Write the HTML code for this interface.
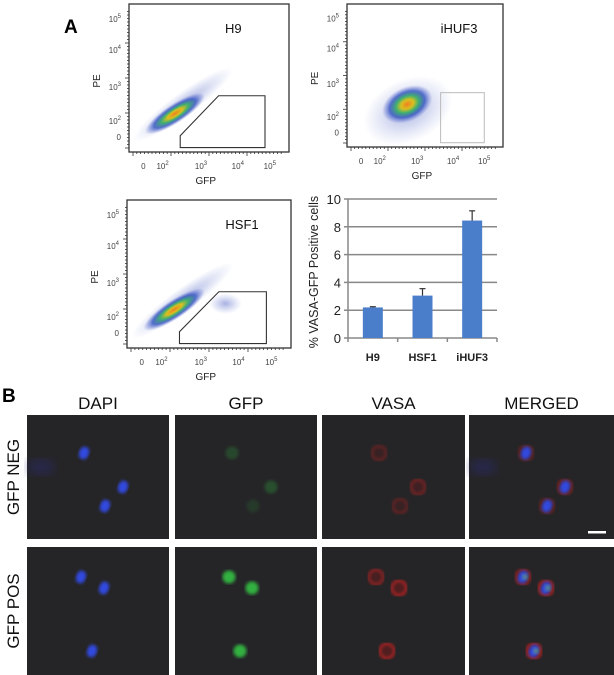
<!DOCTYPE html>
<html><head><meta charset="utf-8"><style>
html,body{margin:0;padding:0;background:#fff;}
svg{display:block;font-family:"Liberation Sans",sans-serif;}
</style></head><body>
<svg id="fig" width="614" height="675" viewBox="0 0 614 675" xmlns="http://www.w3.org/2000/svg">
<defs>
<radialGradient id="dens" cx="50%" cy="50%" r="50%">
<stop offset="0" stop-color="#f08020"/>
<stop offset="0.25" stop-color="#d8c020"/>
<stop offset="0.45" stop-color="#40b070"/>
<stop offset="0.7" stop-color="#3050c0" stop-opacity="0.8"/>
<stop offset="1" stop-color="#6070d0" stop-opacity="0"/>
</radialGradient>
<radialGradient id="sparse" cx="50%" cy="50%" r="50%">
<stop offset="0" stop-color="#6070c8" stop-opacity="0.55"/>
<stop offset="1" stop-color="#8090d8" stop-opacity="0"/>
</radialGradient>
<filter id="blur1"><feGaussianBlur stdDeviation="1.6"/></filter>
<filter id="blur2"><feGaussianBlur stdDeviation="5"/></filter>
</defs>
<text x="64" y="33" font-size="19" font-weight="bold">A</text>
<text x="2" y="402" font-size="19" font-weight="bold">B</text>
<g id="flows"></g>
<g id="bars"></g>
<g id="micro"></g>
</svg>
<script>
const NS='http://www.w3.org/2000/svg';
function mk(p,tag,attrs,txt){const e=document.createElementNS(NS,tag);for(const k in attrs)e.setAttribute(k,attrs[k]);if(txt!==undefined)e.textContent=txt;p.appendChild(e);return e;}

/* ---------- Flow plots ---------- */
const flowNames=['H9','iHUF3','HSF1'];
const flowBoxes=[[129,4,289,152],[347,4,503,147],[127,200,291,348]];
const flowG=document.getElementById('flows');
const decExp=['2','3','4','5'];
flowNames.forEach((nm,i)=>{
  const [x0,y0,x1,y1]=flowBoxes[i];
  const g=mk(flowG,'g',{});
  
  
  const W=x1-x0,H=y1-y0;
  if(nm==='iHUF3'){
    const cx=x0+W*0.38,cy=y0+H*0.72;
    mk(g,'ellipse',{cx:cx,cy:cy+4,rx:W*0.3,ry:H*0.22,fill:'url(#sparse)',transform:`rotate(-25 ${cx} ${cy})`});
    mk(g,'ellipse',{cx:cx+2,cy:cy-2,rx:W*0.17,ry:H*0.12,fill:'url(#dens)',transform:`rotate(-25 ${cx} ${cy})`});
  }else{
    const cx=x0+W*0.3,cy=y0+H*0.72;
    mk(g,'ellipse',{cx:cx+6,cy:cy-6,rx:W*0.38,ry:H*0.08,fill:'url(#sparse)',transform:`rotate(-36 ${cx+6} ${cy-6})`});
    mk(g,'ellipse',{cx:cx-2,cy:cy+3,rx:W*0.22,ry:H*0.065,fill:'url(#dens)',transform:`rotate(-33 ${cx-2} ${cy+3})`});
    if(nm==='HSF1')mk(g,'ellipse',{cx:x0+W*0.6,cy:y0+H*0.7,rx:W*0.1,ry:H*0.07,fill:'url(#sparse)'});
  }
  mk(g,'rect',{x:x0,y:y0,width:W,height:H,fill:'none',stroke:'#333','stroke-width':1.3});
  if(nm==='iHUF3'){
    mk(g,'rect',{x:x0+W*0.6,y:y0+H*0.62,width:W*0.28,height:H*0.35,fill:'none',stroke:'#bbb','stroke-width':1});
  }else{
    const pts=[[0.32,0.97],[0.32,0.89],[0.56,0.62],[0.85,0.62],[0.85,0.97]].map(p=>(x0+p[0]*W)+','+(y0+p[1]*H)).join(' ');
    mk(g,'polygon',{points:pts,fill:'none',stroke:'#333','stroke-width':1.1});
  }
  for(let k=0;k<40;k++){mk(g,'line',{x1:x0+4+k*(W-8)/40,y1:y1,x2:x0+4+k*(W-8)/40,y2:y1+(k%10==0?4:2),stroke:'#333','stroke-width':0.8});}
  for(let k=0;k<40;k++){mk(g,'line',{x1:x0,y1:y1-4-k*(H-8)/40,x2:x0-(k%10==0?4:2),y2:y1-4-k*(H-8)/40,stroke:'#333','stroke-width':0.8});}
  const yl=[0.1,0.31,0.56,0.79];
  decExp.slice().reverse().forEach((e,k)=>{
    const t=mk(g,'text',{x:x0-8,y:y0+yl[k]*H+3,'font-size':8,'text-anchor':'end',fill:'#444'});
    t.textContent='10';mk(t,'tspan',{dy:-4,'font-size':6},e);
  });
  mk(g,'text',{x:x0-8,y:y0+0.9*H+3,'font-size':8,'text-anchor':'end',fill:'#444'},'0');
  const xl=[0.21,0.45,0.68,0.88];
  mk(g,'text',{x:x0+0.09*W,y:y1+17,'font-size':8,'text-anchor':'middle',fill:'#444'},'0');
  decExp.forEach((e,k)=>{const t=mk(g,'text',{x:x0+xl[k]*W,y:y1+17,'font-size':8,'text-anchor':'middle',fill:'#444'});t.textContent='10';mk(t,'tspan',{dy:-4,'font-size':6},e);});
  const xt=mk(g,'text',{x:x0+0.48*W,y:y1+32,'font-size':10,'text-anchor':'middle',fill:'#222'},'GFP');
  
  const yt=mk(g,'text',{x:0,y:0,'font-size':10,'text-anchor':'middle',fill:'#222',transform:`translate(${x0-29},${y0+0.52*H}) rotate(-90)`},'PE');
  
  const tt=mk(g,'text',{x:x0+0.6*W,y:y0+29,'font-size':13,fill:'#111'},nm);
  
});

/* ---------- Bar chart ---------- */
const categories=['H9','HSF1','iHUF3'];
const values=[2.2,3.05,8.45];
const errors=[0.05,0.5,0.7];
const yTicks=[0,2,4,6,8,10];
const bx0=348,bx1=497,by0=338,by1=199;
const yS=v=>by0+(by1-by0)*v/10;
const xS=i=>bx0+(bx1-bx0)*(i+0.5)/3;
const bg=document.getElementById('bars');
yTicks.forEach(t=>{
  const l=mk(bg,'line',{x1:bx0,x2:bx1,y1:yS(t),y2:yS(t),stroke:'#888','stroke-width':1.5});
  
  mk(bg,'line',{x1:bx0-4,x2:bx0,y1:yS(t),y2:yS(t),stroke:'#888','stroke-width':1.5});
  mk(bg,'text',{x:bx0-7,y:yS(t)+5,'font-size':13,'text-anchor':'end',fill:'#222'},String(t));
});
mk(bg,'line',{x1:bx0,x2:bx0,y1:by1,y2:by0,stroke:'#888','stroke-width':1.5});
for(let i=0;i<=3;i++)mk(bg,'line',{x1:bx0+(bx1-bx0)*i/3,x2:bx0+(bx1-bx0)*i/3,y1:by0,y2:by0+4,stroke:'#888','stroke-width':1.5});
categories.forEach((c,i)=>{
  const r=mk(bg,'rect',{x:xS(i)-10,y:yS(values[i]),width:20,height:by0-yS(values[i]),fill:'#4a7ecb'});
  
  const ey=yS(values[i]+errors[i]);
  mk(bg,'line',{x1:xS(i),x2:xS(i),y1:yS(values[i]),y2:ey,stroke:'#333','stroke-width':1.2});
  mk(bg,'line',{x1:xS(i)-3,x2:xS(i)+3,y1:ey,y2:ey,stroke:'#333','stroke-width':1.2});
  const t=mk(bg,'text',{x:xS(i),y:361,'font-size':11,'font-weight':'bold','text-anchor':'middle',fill:'#222'},c);
  
});
const byt=mk(bg,'text',{x:0,y:0,'font-size':12.5,'text-anchor':'middle',fill:'#222',transform:'translate(318,272) rotate(-90)'},'% VASA-GFP Positive cells');


/* ---------- Microscopy panels ---------- */
const mg=document.getElementById('micro');
const cols=[[27,169],[175,317],[322,465],[469,614]];
const rows=[[415,539],[547,675]];
const colNames=['DAPI','GFP','VASA','MERGED'];
const rowNames=['GFP NEG','GFP POS'];
colNames.forEach((n,i)=>{const t=mk(mg,'text',{x:(cols[i][0]+cols[i][1])/2,y:409,'font-size':17,'text-anchor':'middle',fill:'#111'},n);});
rowNames.forEach((n,j)=>{const t=mk(mg,'text',{x:0,y:0,'font-size':17,'text-anchor':'middle',fill:'#111',transform:`translate(19,${(rows[j][0]+rows[j][1])/2}) rotate(-90)`},n);});
const cellsXY=[[[57,38],[96,72],[78,91]],[[54,30],[77,41],[65,104]]];
const gfpAlpha=[[0.25,0.3,0.15],[1,1,1]];
const redAlpha=[[0.45,0.6,0.45],[0.8,1,1]];
rows.forEach((r,j)=>cols.forEach((c,i)=>{
  const p=mk(mg,'rect',{x:c[0],y:r[0],width:c[1]-c[0],height:r[1]-r[0],fill:'#252527'});
  
  const ox=c[0],oy=r[0];
  if(j===0&&(i===0||i===3))mk(mg,'ellipse',{cx:ox+14,cy:oy+52,rx:14,ry:8,fill:'#2a2a70',opacity:0.5,filter:'url(#blur2)'});
  cellsXY[j].forEach((q,k)=>{
    const cx=ox+q[0],cy=oy+q[1];
    if(i===1)mk(mg,'circle',{cx,cy,r:6.5,fill:'#30b040',opacity:gfpAlpha[j][k],filter:'url(#blur1)'});
    if(i===2||i===3){mk(mg,'circle',{cx,cy,r:7,fill:'none',stroke:'#e02020','stroke-width':2.2,opacity:redAlpha[j][k],filter:'url(#blur1)'});
      mk(mg,'circle',{cx,cy,r:5.5,fill:'#901818',opacity:redAlpha[j][k]*0.4,filter:'url(#blur1)'});}
    if(i===0||i===3)mk(mg,'ellipse',{cx,cy,rx:5,ry:6.5,fill:'#3048e0',filter:'url(#blur1)',transform:`rotate(20 ${cx} ${cy})`});
    if(i===3&&j===1)mk(mg,'circle',{cx:cx+2,cy,r:3,fill:'#70b060',opacity:0.6,filter:'url(#blur1)'});
  });
}));
const sb=mk(mg,'rect',{x:588,y:531,width:18,height:2.5,fill:'#fff'});

</script>
</body></html>
